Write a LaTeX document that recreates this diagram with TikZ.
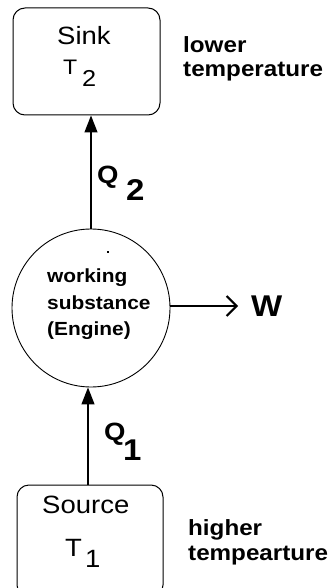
\documentclass[tikz,border=0pt]{standalone}
\usepackage{fontspec}
\setmainfont{Liberation Sans}[FakeStretch=1.1]
\usetikzlibrary{arrows.meta}
\begin{document}
\begin{tikzpicture}[x=1pt,y=-1pt,
  box/.style={draw,line width=1pt,rounded corners=12pt,inner sep=0pt},
  txt/.style={anchor=base west,inner sep=0pt},
  reg/.style={txt,font=\fontsize{25}{30}\selectfont},
  side/.style={txt,font=\fontsize{22}{26}\selectfont\bfseries},
  eng/.style={txt,font=\fontsize{19}{27}\selectfont\bfseries},
  qlab/.style={txt,font=\fontsize{25}{30}\selectfont\bfseries},
  qsub/.style={txt,font=\fontsize{30}{30}\selectfont\bfseries},
  flow/.style={line width=1.3pt,-{Triangle[length=17pt,width=13pt]}}]
\useasboundingbox (0,0) rectangle (329,588);
\clip (0,0) rectangle (329,588);

% boxes and engine
\node[box,minimum width=147pt,minimum height=107pt] (sink) at (86.5,61.5) {};
\node[box,minimum width=146pt,minimum height=112pt] (source) at (90,541) {};
\node[draw,circle,line width=0.9pt,minimum size=158pt,inner sep=0pt] (engine) at (91,308) {};

% texts in sink
\node[reg] (sinkt) at (57,45) {Sink};
\node[txt,font=\fontsize{21}{25}\selectfont] (t2) at (63,75) {T};
\node[txt,font=\fontsize{23}{25}\selectfont] (t2s) at (82,87) {2};
% texts in source
\node[reg] (sourcet) at (42,513) {Source};
\node[txt,font=\fontsize{25}{28}\selectfont] (t1) at (65,556) {T};
\node[txt,font=\fontsize{25}{28}\selectfont] (t1s) at (85,567) {1};

% engine texts
\node[eng] (e1) at (47,282) {working};
\node[eng] (e2) at (47,309) {substance};
\node[eng] (e3) at (47,335) {(Engine)};
\fill (107,251) rectangle (109,253);

% side labels
\node[side] (lower) at (183,53) {lower};
\node[side] (ltemp) at (183,77) {temperature};
\node[side] (higher) at (188,535) {higher};
\node[side] (htemp) at (188,560) {tempearture};

% Q labels
\node[qlab] (q2) at (97,183) {Q};
\node[qsub] (q2s) at (126,200) {2};
\node[qlab] (q1) at (104,440) {Q};
\node[qsub] (q1s) at (123,460) {1};

% W
\node[txt,font=\fontsize{30}{30}\selectfont\bfseries] (w) at (251,316) {W};

% connectors
\draw[flow] (engine.north) -- (engine.north |- sink.south);
\draw[flow] ([xshift=-2pt]source.north) -- ([xshift=-2pt]source.north |- engine.south);
\draw[line width=2pt,-{Straight Barb[length=10pt,width=20pt,line width=2pt]},shorten >=13pt]
  ([yshift=2pt]engine.east) -- ([yshift=2pt]engine.east -| w.west);
\end{tikzpicture}
\end{document}
